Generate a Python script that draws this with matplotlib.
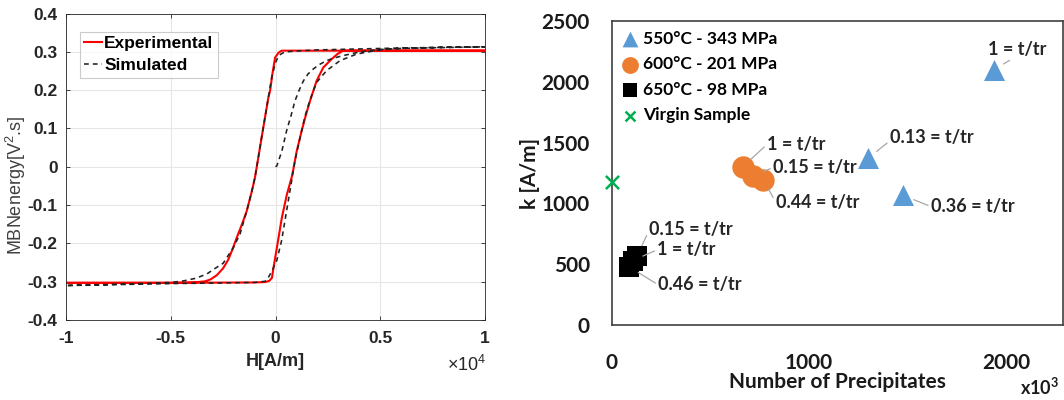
import matplotlib
matplotlib.use("Agg")
import matplotlib.pyplot as plt

plt.rcParams["mathtext.default"] = "regular"

# ---- left panel: MBN energy loops (H in units of 1e4 A/m) ----
exp_H = [1.0, 0.5, 0.1, 0.05, 0.03, 0.015, -0.002, -0.014, -0.026, -0.034, -0.05, -0.066,
         -0.082, -0.098, -0.113, -0.137, -0.16, -0.185, -0.205, -0.225, -0.25, -0.28, -0.31,
         -0.336, -0.39, -0.5, -1.0,
         -0.5, -0.1, -0.05, -0.03, -0.017, -0.01, 0.006, 0.03, 0.054, 0.077, 0.085,
         0.101, 0.125, 0.145, 0.165, 0.196, 0.228, 0.268, 0.295, 0.323, 0.5, 1.0]
exp_M = [0.303, 0.303, 0.303, 0.303, 0.303, 0.298, 0.285, 0.245, 0.198, 0.181, 0.129, 0.077,
         0.024, -0.028, -0.064, -0.115, -0.15, -0.185, -0.215, -0.242, -0.265, -0.283, -0.294,
         -0.299, -0.302, -0.303, -0.303,
         -0.303, -0.302, -0.301, -0.298, -0.29, -0.265, -0.213, -0.134, -0.073, -0.028, -0.007,
         0.04, 0.094, 0.135, 0.172, 0.224, 0.259, 0.281, 0.294, 0.303, 0.303, 0.303]

sim_H = [0.0, 0.006, 0.03, 0.053, 0.075, 0.093, 0.113, 0.133, 0.155, 0.18, 0.21, 0.244,
         0.28, 0.323, 0.37, 0.419, 0.498, 0.6, 0.8, 1.0,
         0.6, 0.2, 0.1, 0.05, 0.035, 0.02, 0.008, -0.002, -0.018, -0.034, -0.05, -0.066,
         -0.082, -0.098, -0.113, -0.137, -0.169, -0.2, -0.25, -0.296, -0.328, -0.38,
         -0.44, -0.5, -0.7, -1.0,
         -0.5, -0.1, -0.05, -0.034, -0.015, 0.006, 0.029, 0.053, 0.077, 0.093, 0.117,
         0.14, 0.165, 0.196, 0.244, 0.308, 0.387, 0.483, 0.6, 0.8, 1.0]
sim_M = [0.0, 0.002, 0.04, 0.094, 0.135, 0.172, 0.2, 0.224, 0.242, 0.255, 0.267, 0.277,
         0.284, 0.29, 0.296, 0.301, 0.306, 0.309, 0.311, 0.313,
         0.31, 0.305, 0.302, 0.3, 0.297, 0.292, 0.282, 0.268, 0.233, 0.181, 0.129, 0.077,
         0.024, -0.028, -0.064, -0.115, -0.175, -0.21, -0.252, -0.268, -0.28, -0.291,
         -0.298, -0.302, -0.306, -0.31,
         -0.305, -0.302, -0.299, -0.289, -0.27, -0.245, -0.193, -0.115, -0.037, 0.016, 0.075,
         0.13, 0.175, 0.22, 0.251, 0.277, 0.294, 0.304, 0.309, 0.312, 0.313]

# ---- right panel: k vs number of precipitates (x1e3) ----
tri_x = [1940, 1300, 1480]
tri_y = [2100, 1370, 1065]
tri_lbl = ["1 = t/tr", "0.13 = t/tr", "0.36 = t/tr"]
tri_txt = [(1909, 2269), (1411, 1543), (1619, 974)]
tri_rel = [(0.45, 0.0), (0.0, 0.3), (0.0, 0.5)]

circ_x = [663, 717, 768]
circ_y = [1300, 1224, 1196]
circ_lbl = ["1 = t/tr", "0.15 = t/tr", "0.44 = t/tr"]
circ_txt = [(787, 1485), (817, 1295), (832, 1007)]

sq_x = [128, 105, 85]
sq_y = [570, 530, 480]
sq_lbl = ["0.15 = t/tr", "1 = t/tr", "0.46 = t/tr"]
sq_txt = [(190, 784), (230, 619), (235, 330)]

virgin_x = [0]
virgin_y = [1180]

fig = plt.figure(figsize=(10.64, 4.0), dpi=100)

# left axes, MATLAB look
lf = "Liberation Sans"
ax1 = fig.add_axes([66 / 1064, 1 - 320 / 400, (485 - 66) / 1064, (320 - 13.5) / 400])
ax1.plot(exp_H, exp_M, color="red", lw=1.5, label="Experimental")
ax1.plot(sim_H, sim_M, color="#222222", lw=1.15, ls=(0, (3, 2.5)), label="Simulated")
ax1.set_xlim(-1, 1)
ax1.set_ylim(-0.4, 0.4)
ax1.set_xticks([-1, -0.5, 0, 0.5, 1])
ax1.set_xticklabels(["-1", "-0.5", "0", "0.5", "1"])
ax1.set_yticks([-0.4, -0.3, -0.2, -0.1, 0, 0.1, 0.2, 0.3, 0.4])
ax1.set_yticklabels(["-0.4", "-0.3", "-0.2", "-0.1", "0", "0.1", "0.2", "0.3", "0.4"])
ax1.grid(True, color="#e6e6e6", lw=0.8)
ax1.set_axisbelow(True)
ax1.tick_params(direction="in", length=3, width=0.6, color="#262626", top=True, right=True)
ax1.tick_params(axis="x", pad=8)
ax1.tick_params(axis="y", pad=6)
for t in ax1.get_xticklabels() + ax1.get_yticklabels():
    t.set_fontfamily(lf)
    t.set_fontweight("bold")
    t.set_fontsize(12.5)
    t.set_color("#262626")
for s in ax1.spines.values():
    s.set_color("#262626")
    s.set_linewidth(0.6)
ax1.set_xlabel("H[A/m]", fontfamily=lf, fontweight="bold", fontsize=13, color="#262626")
ax1.xaxis.set_label_coords(0.5, -0.108)
ax1.set_ylabel("MBNenergy[V$^{2}$.s]", fontfamily=lf, fontsize=13, color="#404040")
ax1.yaxis.set_label_coords(-0.09, 0.44)
fig.text(447 / 1064, 1 - 365 / 400, "×10$^{4}$", fontfamily=lf, fontsize=13, color="#262626",
         va="center")
leg = ax1.legend(loc="upper left", bbox_to_anchor=(0.033, 0.94), borderaxespad=0, frameon=True,
                 fancybox=False, edgecolor="#bfbfbf", handlelength=1.0, handletextpad=0.15,
                 borderpad=0.25, labelspacing=0.4,
                 prop={"family": lf, "weight": "bold", "size": 12.5})
leg.get_frame().set_linewidth(0.8)

# right axes, Excel look
rf = "Lato"
ax2 = fig.add_axes([612 / 1064, 1 - 325 / 400, (1063 - 612) / 1064, (325 - 21) / 400])
ax2.scatter(tri_x, tri_y, marker="^", s=230, color="#5b9bd5", lw=0, label="550°C - 343 MPa", zorder=3)
ax2.scatter(circ_x, circ_y, marker="o", s=260, color="#ed7d31", lw=0, label="600°C - 201 MPa", zorder=3)
ax2.scatter(sq_x, sq_y, marker="s", s=200, color="black", lw=0, label="650°C - 98 MPa", zorder=3)
ax2.scatter(virgin_x, virgin_y, marker="x", s=90, color="#00b050", lw=1.8, label="Virgin Sample",
            zorder=4, clip_on=False)

lead = dict(arrowstyle="-", color="#a6a6a6", lw=0.9, shrinkA=0, shrinkB=8)
for xs, ys, lbls, txts in [(tri_x, tri_y, tri_lbl, tri_txt),
                           (circ_x, circ_y, circ_lbl, circ_txt),
                           (sq_x, sq_y, sq_lbl, sq_txt)]:
    for i in range(len(xs)):
        rel = tri_rel[i] if xs is tri_x else (0.0, 0.5)
        ax2.annotate(lbls[i], xy=(xs[i], ys[i]), xytext=txts[i], ha="left", va="center",
                     fontfamily=rf, fontweight="bold", fontsize=13, color="#262626",
                     arrowprops=dict(lead, relpos=rel), zorder=5)

ax2.set_xlim(0, 2290)
ax2.set_ylim(0, 2500)
ax2.set_xticks([0, 1000, 2000])
ax2.set_yticks([0, 500, 1000, 1500, 2000, 2500])
ax2.tick_params(length=0, labelsize=15, labelcolor="#1a1a1a")
ax2.tick_params(axis="x", pad=20)
ax2.tick_params(axis="y", pad=16)
for t in ax2.get_xticklabels() + ax2.get_yticklabels():
    t.set_fontfamily(rf)
    t.set_fontweight("bold")
for s in ax2.spines.values():
    s.set_color("#404040")
    s.set_linewidth(1.2)
ax2.set_xlabel("Number of Precipitates", fontfamily=rf, fontweight="bold", fontsize=15, color="#1a1a1a")
ax2.xaxis.set_label_coords(0.5, -0.155)
ax2.set_ylabel("k [A/m]", fontfamily=rf, fontweight="bold", fontsize=15, color="#1a1a1a")
ax2.yaxis.set_label_coords(-0.16, 0.5)
fig.text(1020 / 1064, 1 - 387 / 400, "x10$^{3}$", fontfamily=rf, fontweight="bold", fontsize=13,
         color="#1a1a1a", va="center")
ax2.legend(loc="upper left", bbox_to_anchor=(0.0, 1.0), borderaxespad=0.1, frameon=False,
           handlelength=1.0, handletextpad=0.25, labelspacing=0.55, borderpad=0.45, markerscale=0.75,
           prop={"family": rf, "weight": "bold", "size": 12.5})

fig.savefig("out.png", dpi=100)
